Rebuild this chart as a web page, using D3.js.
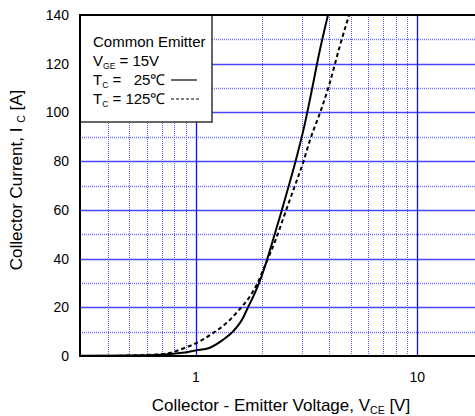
<!DOCTYPE html>
<html>
<head>
<meta charset="utf-8">
<script src="https://cdn.jsdelivr.net/npm/d3@7"></script>
<style>
  body { margin: 0; background: #fff; }
  text { font-family: "Liberation Sans", Arial, sans-serif; fill: #000; }
</style>
</head>
<body>
<svg id="chart" width="475" height="416"></svg>
<script>
// 25 C curve (solid)
const vce25 = [0.3, 0.5, 0.7, 0.85, 1.0, 1.15, 1.32, 1.47, 1.63, 1.71, 1.84, 1.94, 2.08, 2.22, 2.43, 2.65, 2.84, 3.1, 3.32, 3.62, 3.95];
const ic25  = [0.1, 0.2, 0.5, 1.2, 2.3, 3.3, 6.5, 10, 15.5, 19.5, 25.5, 30.5, 38.5, 47, 59, 71, 81, 95, 108, 125, 140];
// 125 C curve (dashed)
const vce125 = [0.45, 0.55, 0.66, 0.78, 0.9, 1.0, 1.19, 1.37, 1.57, 1.77, 1.9, 2.05, 2.3, 2.56, 2.79, 3.04, 3.26, 3.74, 4.02, 4.46, 4.92];
const ic125  = [0.1, 0.3, 0.6, 1.5, 3.5, 5.2, 9.3, 13.4, 19, 25, 30, 37, 48, 60, 69.5, 79, 88, 103, 112, 127, 140];

const yTicks = [0, 20, 40, 60, 80, 100, 120, 140];
const xTickLabels = [1, 10];

const svg = d3.select('#chart');
const pLeft = 80, pTop = 15, pBottom = 356, pRight = 484;

const x = d3.scaleLog().domain([0.3, 20]).range([pLeft, pRight]);
const y = d3.scaleLinear().domain([0, 140]).range([pBottom, pTop]);

const plot = svg.append('g');
plot.append('defs').append('clipPath').attr('id', 'clip')
    .append('rect').attr('x', pLeft).attr('y', pTop).attr('width', pRight - pLeft).attr('height', pBottom - pTop);

// grid lines
const minorX = [0.4, 0.5, 0.6, 0.7, 0.8, 0.9, 2, 3, 4, 5, 6, 7, 8, 9, 20];
const grid = plot.append('g').attr('clip-path', 'url(#clip)');
grid.selectAll('.vminor').data(minorX).join('line')
    .attr('x1', d => Math.round(x(d)) + 0.5).attr('x2', d => Math.round(x(d)) + 0.5)
    .attr('y1', pTop).attr('y2', pBottom)
    .attr('stroke', '#5858ff').attr('stroke-width', 1).attr('stroke-dasharray', '1,1');
grid.selectAll('.hminor').data(d3.range(10, 140, 20)).join('line')
    .attr('x1', pLeft).attr('x2', pRight)
    .attr('y1', d => Math.round(y(d)) + 0.5).attr('y2', d => Math.round(y(d)) + 0.5)
    .attr('stroke', '#7070ff').attr('stroke-width', 1.3).attr('stroke-dasharray', '1,1');
grid.selectAll('.hmajor').data(yTicks.slice(1, -1)).join('line')
    .attr('x1', pLeft).attr('x2', pRight)
    .attr('y1', d => Math.round(y(d)) + 0.5).attr('y2', d => Math.round(y(d)) + 0.5)
    .attr('stroke', '#4848ff').attr('stroke-width', 1.5);
grid.selectAll('.vmajor').data(xTickLabels).join('line')
    .attr('x1', d => Math.round(x(d)) + 0.5).attr('x2', d => Math.round(x(d)) + 0.5)
    .attr('y1', pTop).attr('y2', pBottom)
    .attr('stroke', '#1010ff').attr('stroke-width', 1.3);

// legend box
plot.append('rect').attr('x', pLeft).attr('y', pTop).attr('width', 132).attr('height', 107)
    .attr('fill', '#fff').attr('stroke', '#333').attr('stroke-width', 1.5);

// curves
const line = d3.line().x(d => x(d[0])).y(d => y(d[1])).curve(d3.curveMonotoneX);
const curves = plot.append('g').attr('clip-path', 'url(#clip)');
curves.append('path').datum(d3.zip(vce25, ic25)).attr('d', line)
    .attr('fill', 'none').attr('stroke', '#000').attr('stroke-width', 2);
curves.append('path').datum(d3.zip(vce125, ic125)).attr('d', line)
    .attr('fill', 'none').attr('stroke', '#000').attr('stroke-width', 2).attr('stroke-dasharray', '4,3');

// frame
plot.append('path')
    .attr('d', `M${pRight},${pTop}H${pLeft}V${pBottom}H${pRight}`)
    .attr('fill', 'none').attr('stroke', '#000').attr('stroke-width', 2);

// axes labels
svg.append('g').selectAll('text').data(yTicks).join('text')
    .attr('x', 69).attr('y', d => y(d) + 5)
    .attr('text-anchor', 'end').attr('font-size', 14).text(d => d);
svg.append('g').selectAll('text').data(xTickLabels).join('text')
    .attr('x', d => x(d)).attr('y', 382)
    .attr('text-anchor', 'middle').attr('font-size', 14).text(d => d);

const xt = svg.append('text').attr('x', 281).attr('y', 411).attr('text-anchor', 'middle').attr('font-size', 17);
xt.append('tspan').text('Collector - Emitter Voltage, V');
xt.append('tspan').attr('font-size', 10.5).attr('dy', 3).text('CE');
xt.append('tspan').attr('dy', -3).text(' [V]');

const yt = svg.append('text').attr('transform', 'translate(22,180) rotate(-90)')
    .attr('text-anchor', 'middle').attr('font-size', 17);
yt.append('tspan').text('Collector Current, I ');
yt.append('tspan').attr('font-size', 10.5).attr('dy', 3).text('C');
yt.append('tspan').attr('dy', -3).text(' [A]');

// legend text
const lg = svg.append('g').attr('font-size', 15);
lg.append('text').attr('x', 93).attr('y', 47).text('Common Emitter');
const l2 = lg.append('text').attr('x', 93).attr('y', 66);
l2.append('tspan').text('V');
l2.append('tspan').attr('font-size', 8.5).attr('dy', 3).text('GE');
l2.append('tspan').attr('dy', -3).text(' = 15V');
const l3 = lg.append('text').attr('x', 93).attr('y', 85).attr('xml:space', 'preserve');
l3.append('tspan').text('T');
l3.append('tspan').attr('font-size', 8.5).attr('dy', 3).text('C');
l3.append('tspan').attr('dy', -3).text(' =   25℃');
const l4 = lg.append('text').attr('x', 93).attr('y', 104);
l4.append('tspan').text('T');
l4.append('tspan').attr('font-size', 8.5).attr('dy', 3).text('C');
l4.append('tspan').attr('dy', -3).text(' = 125℃');
lg.append('line').attr('x1', 171).attr('x2', 197).attr('y1', 80).attr('y2', 80)
    .attr('stroke', '#000').attr('stroke-width', 1.2);
lg.append('line').attr('x1', 171).attr('x2', 199).attr('y1', 99).attr('y2', 99)
    .attr('stroke', '#000').attr('stroke-width', 1.2).attr('stroke-dasharray', '3,2');
</script>
</body>
</html>
